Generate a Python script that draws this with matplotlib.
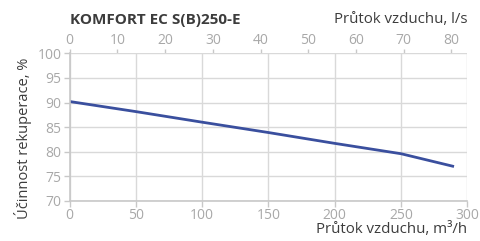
import numpy as np
import matplotlib
matplotlib.use('Agg')
import matplotlib.pyplot as plt

plt.rcParams['font.family'] = ['Open Sans', 'DejaVu Sans']

# airflow (m3/h) vs heat recovery efficiency (%)
flow_m3h = [0, 50, 100, 150, 200, 250, 290]
efficiency = [90.2, 88.15, 86.0, 83.9, 81.7, 79.6, 77.0]

x_ticks = [0, 50, 100, 150, 200, 250, 300]
x_ticks_ls = [0, 10, 20, 30, 40, 50, 60, 70, 80]
y_ticks = [70, 75, 80, 85, 90, 95, 100]

title = 'KOMFORT EC S(B)250-E'
xlabel_bottom = 'Průtok vzduchu, m³/h'
xlabel_top = 'Průtok vzduchu, l/s'
ylabel = 'Účinnost rekuperace, %'

tick_col = '#a8a8a8'
grid_col = '#d9d9d9'
text_col = '#3c3c3c'
line_col = '#3a4f9e'

fig = plt.figure(figsize=(4.8, 2.41), dpi=100)
ax = fig.add_axes([0.1452, 0.166, 0.8283, 0.613])

ax.plot(flow_m3h, efficiency, color=line_col, lw=2, solid_capstyle='butt')

ax.set_xlim(0, 300)
ax.set_ylim(70, 100)
ax.set_xticks(x_ticks)
ax.set_yticks(y_ticks)
ax.grid(True, color=grid_col, lw=1)
ax.set_axisbelow(True)
for s in ['top', 'right']:
    ax.spines[s].set_visible(False)
for s in ['left', 'bottom']:
    ax.spines[s].set_color('#c8c8c8')
    ax.spines[s].set_linewidth(1.2)
ax.tick_params(colors='#c8c8c8', labelcolor=tick_col, labelsize=10, length=4, width=1, pad=2)
ax.tick_params(axis='x', pad=1)

top = ax.secondary_xaxis('top', functions=(lambda v: v / 3.6, lambda v: v * 3.6))
top.set_xticks(x_ticks_ls)
top.spines['top'].set_visible(False)
top.tick_params(colors='#c8c8c8', labelcolor=tick_col, labelsize=10, length=3, width=1, pad=1)

fig.text(0.048, 0.427, ylabel, rotation=90, ha='center', va='center', color=text_col, fontsize=10.5)
fig.text(0.9735, 0.048, xlabel_bottom, ha='right', va='center', color=text_col, fontsize=10.8)
fig.text(0.9735, 0.92, xlabel_top, ha='right', va='center', color=text_col, fontsize=10.8)
fig.text(0.1452, 0.917, title, ha='left', va='center', color=text_col, fontsize=11, fontweight='bold')

fig.savefig('out.png', dpi=100)
